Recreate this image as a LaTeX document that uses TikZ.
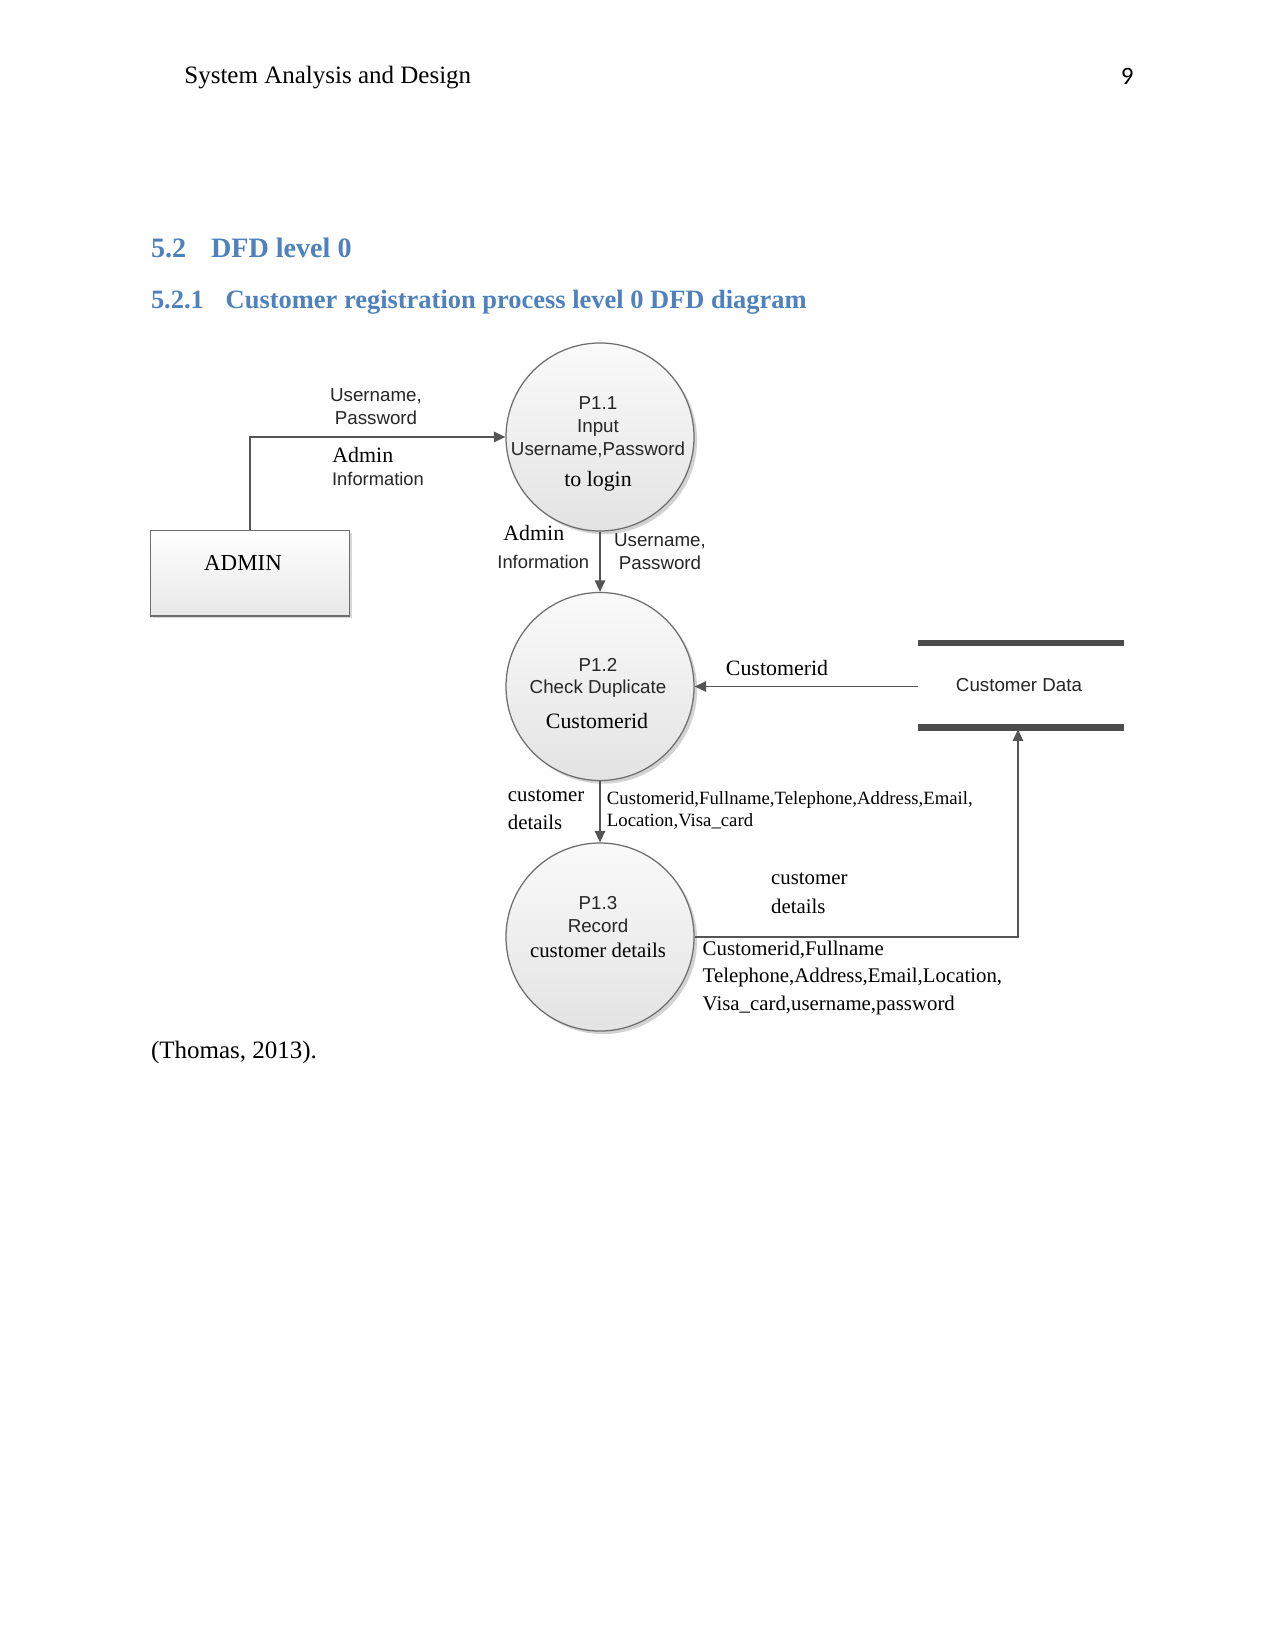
\documentclass[tikz,border=0pt]{standalone}
\usepackage{fontspec}
\setmainfont{Liberation Serif}
\setsansfont{Liberation Sans}
\newfontfamily\carlito{Carlito}
\usetikzlibrary{arrows.meta,shadows}
\definecolor{headblue}{RGB}{79,129,189}
\definecolor{linegray}{RGB}{85,85,85}
\definecolor{edgegray}{RGB}{110,110,110}
\begin{document}
\begin{tikzpicture}[x=0.48pt,y=-0.48pt,
  proc/.style={circle, draw=edgegray, line width=0.6pt, top color=gray!4, bottom color=gray!22,
     minimum size=90.24pt, inner sep=0pt,
     drop shadow={shadow xshift=1.5pt, shadow yshift=-1.5pt, fill=gray, opacity=0.35}},
  entity/.style={rectangle, draw=edgegray, line width=0.6pt, top color=white, bottom color=gray!18,
     minimum width=95.5pt, minimum height=41pt, inner sep=0pt,
     drop shadow={shadow xshift=1pt, shadow yshift=-1pt, fill=gray, opacity=0.3}},
  flow/.style={draw=linegray, line width=0.7pt, -{Triangle[length=5.5pt,width=5pt]}},
  storebar/.style={draw=linegray!90!black, line width=3pt},
  sanslbl/.style={font=\sffamily\fontsize{9}{11}\selectfont, inner sep=0pt, text=black!85},
  seriflbl/.style={font=\fontsize{10}{12}\selectfont, inner sep=0pt},
  bigserif/.style={font=\fontsize{10.5}{12}\selectfont, inner sep=0pt},
  smallserif/.style={font=\fontsize{9}{11}\selectfont, inner sep=0pt},
  bodytext/.style={font=\fontsize{12}{14}\selectfont, inner sep=0pt},
  headone/.style={font=\bfseries\fontsize{13.5}{16}\selectfont, text=headblue, inner sep=0pt},
  headtwo/.style={font=\bfseries\fontsize{12.7}{15}\selectfont, text=headblue, inner sep=0pt}
]
\useasboundingbox (0,0) rectangle (1275,1651);
\fill[white] (0,0) rectangle (1275,1651);

% page header and headings
\node[bodytext, anchor=west] (hdr) at (184,78) {System Analysis and Design};
\node[font=\carlito\fontsize{12}{14}\selectfont, inner sep=0pt, anchor=east] (pgno) at (1134,76) {9};
\node[headone, anchor=base west] (h1num) at (150.6,257.5) {5.2};
\node[headone, anchor=base west] (h1txt) at (210.6,257.5) {DFD level 0};
\node[headtwo, anchor=base west] (h2num) at (150.6,308.7) {5.2.1};
\node[headtwo, anchor=base west] (h2txt) at (225.3,308.7) {Customer registration process level 0 DFD diagram};

% processes
\node[proc] (p1) at (600,437) {};
\node[proc] (p2) at (600,686.5) {};
\node[proc] (p3) at (600,937) {};

\node[sanslbl] (p1a) at (598,403) {P1.1};
\node[sanslbl] (p1b) at (598,428) {Input};
\node[sanslbl] (p1c) at (598,449.5) {Username,Password};
\node[bigserif] (p1d) at (598,481) {to login};

\node[sanslbl] (p2a) at (598,665) {P1.2};
\node[sanslbl] (p2b) at (598,688.5) {Check Duplicate};
\node[bigserif] (p2c) at (597,721.5) {Customerid};

\node[sanslbl] (p3a) at (598,903) {P1.3};
\node[sanslbl] (p3b) at (598,925.5) {Record};
\node[seriflbl] (p3c) at (598,950) {customer details};

% external entity
\node[entity] (admin) at (250,573.3) {};
\node[font=\fontsize{11}{13}\selectfont, inner sep=0pt] (admintxt) at (243,563) {ADMIN};

% data store
\coordinate (stTL) at (918,643.3);
\coordinate (stTR) at (1123.5,643.3);
\coordinate (stBL) at (918,727.5);
\coordinate (stBR) at (1123.5,727.5);
\draw[storebar] (stTL) -- (stTR);
\draw[storebar] (stBL) -- (stBR);
\node[sanslbl] (store) at (1019,685.5) {Customer Data};
\coordinate (storeW) at (918,686.5);
\coordinate (storeB) at (1018,729.5);

% flows
\draw[flow] (admin.north) |- (p1.west);
\draw[flow] (p1.south) -- (p2.north);
\draw[flow] (storeW) -- (p2.east);
\draw[flow] (p2.south) -- (p3.north);
\draw[flow] (p3.east) -| (storeB);

% flow labels
\node[sanslbl, align=center] (l1) at (376,406.5) {Username,\\Password};
\node[bigserif, anchor=west] (l2) at (332,455) {Admin};
\node[sanslbl, anchor=west, font=\sffamily\fontsize{8.8}{11}\selectfont] (l3) at (331.7,479) {Information};

\node[bigserif, anchor=west] (l4) at (503,533) {Admin};
\node[sanslbl, anchor=west, font=\sffamily\fontsize{8.8}{11}\selectfont] (l5) at (497,562) {Information};
\node[sanslbl, align=center] (l6) at (660,551.5) {Username,\\Password};

\node[bigserif] (l7) at (777,668.5) {Customerid};

\node[seriflbl, anchor=west] (l8) at (507.5,796) {customer};
\node[seriflbl, anchor=west] (l9) at (507.5,822) {details};
\node[smallserif, anchor=west] (l10) at (606.5,799.5) {Customerid,Fullname,Telephone,Address,Email,};
\node[smallserif, anchor=west] (l11) at (606.5,821) {Location,Visa\_card};

\node[seriflbl, anchor=west] (l12) at (770.7,879) {customer};
\node[seriflbl, anchor=west] (l13) at (770.7,906) {details};
\node[seriflbl, anchor=west] (l14) at (702.3,950) {Customerid,Fullname};
\node[seriflbl, anchor=west] (l15) at (702.3,977.5) {Telephone,Address,Email,Location,};
\node[seriflbl, anchor=west] (l16) at (702.3,1005) {Visa\_card,username,password};

% citation
\node[bodytext, anchor=west] (cite) at (150.6,1052) {(Thomas, 2013).};
\end{tikzpicture}
\end{document}
